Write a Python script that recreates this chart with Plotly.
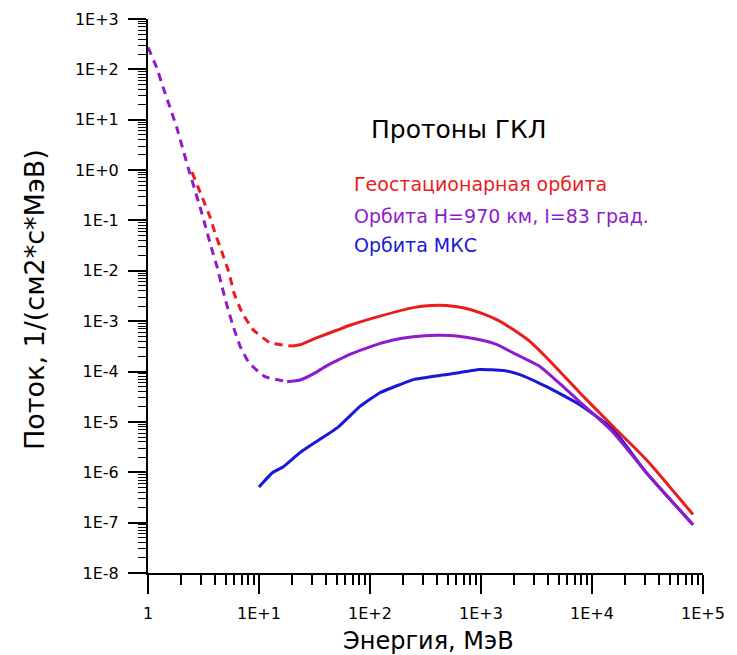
import plotly.graph_objects as go

# ---- data (energy in MeV, flux in 1/(cm2*s*MeV)) ----
geo_dash_E = [2.49, 3.02, 3.62, 4.02, 4.65, 5.37, 5.96, 7.03, 8.83, 12.6, 19.8]
geo_dash_F = [0.91, 0.32, 0.117, 0.056, 0.023, 0.0091, 0.0036, 0.00148, 6.8e-4, 3.7e-4, 3.2e-4]
geo_E = [19.8, 23.4, 33.4, 50.1, 66, 123, 245, 355, 490, 708, 977, 1413, 1950, 2818, 3890, 7762, 15500, 30900, 81300]
geo_F = [3.2e-4, 3.4e-4, 4.7e-4, 6.6e-4, 8.3e-4, 1.26e-3, 1.86e-3, 2.04e-3, 2.04e-3, 1.82e-3, 1.48e-3,
         1.05e-3, 6.8e-4, 3.8e-4, 1.9e-4, 3.8e-5, 8.1e-6, 1.78e-6, 1.45e-7]

polar_dash_E = [1.0, 1.2, 1.365, 1.82, 2.29, 2.94, 3.27, 3.70, 4.19, 4.65, 5.15, 5.83, 6.75, 8.13, 11.3, 17.9]
polar_dash_F = [275, 107, 44.7, 6.9, 1.15, 0.186, 0.081, 0.030, 0.012, 0.0048, 0.00204, 8.1e-4, 3.2e-4,
                1.48e-4, 7.9e-5, 6.3e-5]
polar_E = [17.9, 23.4, 30.6, 40.7, 52.5, 66, 100, 158, 245, 398, 603, 977, 1413, 1950, 3390, 5012, 7762,
           15500, 30900, 81300]
polar_F = [6.3e-5, 6.8e-5, 8.9e-5, 1.3e-4, 1.72e-4, 2.2e-4, 3.1e-4, 4.17e-4, 4.9e-4, 5.25e-4, 5.1e-4,
           4.27e-4, 3.39e-4, 2.34e-4, 1.26e-4, 6.0e-5, 2.5e-5, 6.2e-6, 9.8e-7, 9.1e-8]

iss_E = [10, 13.2, 16.6, 23.4, 33.1, 51.3, 81.3, 123, 186, 245, 490, 977, 1585, 2239, 3890, 7762, 15500, 30900, 81300]
iss_F = [5.1e-7, 9.8e-7, 1.29e-6, 2.45e-6, 4.1e-6, 7.8e-6, 2.04e-5, 3.8e-5, 5.5e-5, 6.9e-5, 8.7e-5, 1.1e-4,
         1.05e-4, 8.7e-5, 5.0e-5, 2.2e-5, 7.1e-6, 9.8e-7, 9.1e-8]

x_tickvals = [1, 10, 100, 1000, 10000, 100000]
x_ticktext = ["1", "1E+1", "1E+2", "1E+3", "1E+4", "1E+5"]
y_tickvals = [1e3, 1e2, 1e1, 1e0, 1e-1, 1e-2, 1e-3, 1e-4, 1e-5, 1e-6, 1e-7, 1e-8]
y_ticktext = ["1E+3", "1E+2", "1E+1", "1E+0", "1E-1", "1E-2", "1E-3", "1E-4", "1E-5", "1E-6", "1E-7", "1E-8"]

title_text = "Протоны ГКЛ"
series_names = ["Геостационарная орбита", "Орбита Н=970 км, I=83 град.", "Орбита МКС"]
x_title = "Энергия, МэВ"
y_title = "Поток, 1/(см2*с*МэВ)"

RED = "#ec1c1c"
PURPLE = "#8e1ccc"
BLUE = "#1818d8"
FONT = "DejaVu Sans"

fig = go.Figure()
lw = 3
dash = "8px,6px"
fig.add_trace(go.Scatter(x=polar_dash_E, y=polar_dash_F, mode="lines",
                         line=dict(color=PURPLE, width=lw, dash=dash, shape="spline", smoothing=0.3)))
fig.add_trace(go.Scatter(x=geo_dash_E, y=geo_dash_F, mode="lines",
                         line=dict(color=RED, width=lw, dash=dash, shape="spline", smoothing=0.3)))
fig.add_trace(go.Scatter(x=iss_E, y=iss_F, mode="lines",
                         line=dict(color=BLUE, width=lw, shape="spline", smoothing=0.4)))
fig.add_trace(go.Scatter(x=polar_E, y=polar_F, mode="lines",
                         line=dict(color=PURPLE, width=lw, shape="spline", smoothing=0.6)))
fig.add_trace(go.Scatter(x=geo_E, y=geo_F, mode="lines",
                         line=dict(color=RED, width=lw, shape="spline", smoothing=0.6)))

minor_x = [m * 10 ** d for d in range(0, 5) for m in range(2, 10)]
minor_y = [m * 10.0 ** d for d in range(-8, 3) for m in range(2, 10)]

fig.update_xaxes(type="log", range=[0, 5], showgrid=False, zeroline=False,
                 showline=True, linecolor="black", linewidth=2,
                 tickmode="array", tickvals=x_tickvals, ticktext=x_ticktext,
                 ticks="outside", ticklen=19, tickwidth=2, tickcolor="black",
                 ticklabelstandoff=6,
                 tickfont=dict(family=FONT, size=16, color="black"),
                 minor=dict(tickmode="array", tickvals=minor_x, ticks="outside",
                            ticklen=10, tickwidth=2, tickcolor="black", showgrid=False))
fig.update_yaxes(type="log", range=[-8, 3], showgrid=False, zeroline=False,
                 showline=True, linecolor="black", linewidth=2,
                 tickmode="array", tickvals=y_tickvals, ticktext=y_ticktext,
                 ticks="outside", ticklen=18, tickwidth=2, tickcolor="black",
                 ticklabelstandoff=6,
                 tickfont=dict(family=FONT, size=16, color="black"),
                 minor=dict(tickmode="array", tickvals=minor_y, ticks="outside",
                            ticklen=8, tickwidth=1, tickcolor="black", showgrid=False))

# page body has an 8px margin: shift everything up/left by 8px
OFF = 8
W, H = 737 - OFF, 655 - OFF
L, R, T, B = 148 - OFF, 34, 19 - OFF, 82
pw, ph = W - L - R, H - T - B


def px(x):
    return (x - OFF - L) / pw


def py(y):
    return (H - B - (y - OFF)) / ph


ann = [
    dict(text=title_text, x=px(369), y=py(129), xanchor="left", yanchor="middle",
         font=dict(family=FONT, size=25, color="black")),
    dict(text=series_names[0], x=px(352), y=py(184), xanchor="left", yanchor="middle",
         font=dict(family=FONT, size=19, color=RED)),
    dict(text=series_names[1], x=px(352), y=py(216), xanchor="left", yanchor="middle",
         font=dict(family=FONT, size=19, color=PURPLE)),
    dict(text=series_names[2], x=px(352), y=py(245), xanchor="left", yanchor="middle",
         font=dict(family=FONT, size=19, color=BLUE)),
    dict(text=x_title, x=px(428), y=py(641), xanchor="center", yanchor="middle",
         font=dict(family=FONT, size=24, color="black")),
    dict(text=y_title, x=px(34), y=py(300), xanchor="center", yanchor="middle", textangle=-90,
         font=dict(family=FONT, size=27, color="black")),
]
for a in ann:
    a.update(xref="paper", yref="paper", showarrow=False)

fig.update_layout(width=W, height=H, margin=dict(l=L, r=R, t=T, b=B, autoexpand=False),
                  paper_bgcolor="white", plot_bgcolor="white", showlegend=False,
                  annotations=ann)

fig.write_html("out.html")
